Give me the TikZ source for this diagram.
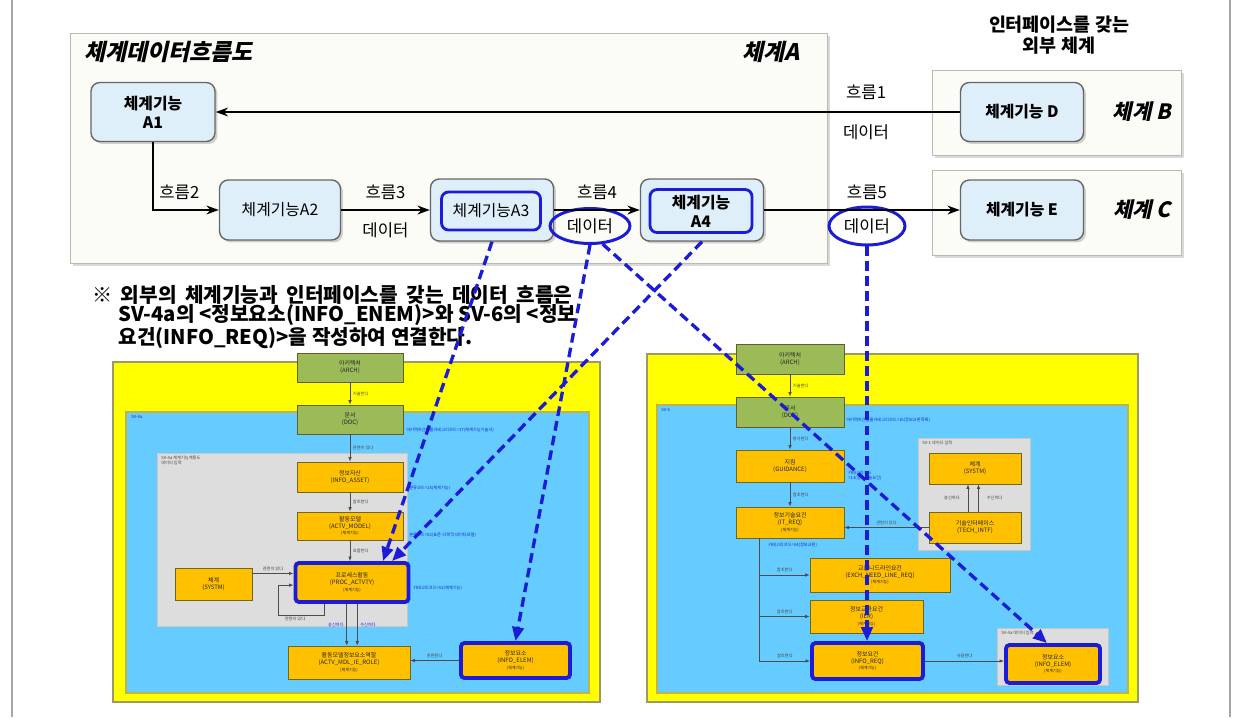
\documentclass[tikz,border=0pt]{standalone}
\usepackage{fontspec}
\setmainfont{Noto Sans CJK KR}
\newfontfamily\slantfont{Noto Sans CJK KR}[UprightFeatures={FakeSlant=0.22}, BoldFeatures={FakeSlant=0.22}]
\usepackage{tikz}
\usetikzlibrary{arrows.meta,positioning,shapes.geometric,calc,shadows}
\definecolor{sysfill}{RGB}{252,252,247}
\definecolor{fnfill}{RGB}{222,239,250}
\definecolor{hlblue}{RGB}{28,28,214}
\definecolor{panelyellow}{RGB}{255,255,0}
\definecolor{panelblue}{RGB}{102,204,255}
\definecolor{panelgray}{RGB}{221,221,221}
\definecolor{boxorange}{RGB}{255,192,0}
\definecolor{boxgreen}{RGB}{155,187,89}
\definecolor{annoblue}{RGB}{20,40,200}
\newcommand{\fnnote}{{\fontsize{2.3}{2.7}\selectfont(체계기능)}}

\begin{document}
\begin{tikzpicture}[x=0.02cm, y=-0.02cm,
    sysbox/.style={rectangle, draw=gray!55, fill=sysfill, line width=0.7pt, inner sep=0pt, anchor=north west,
        drop shadow={shadow xshift=1.6pt, shadow yshift=-1.6pt, opacity=0.3}},
    fnbox/.style={rectangle, rounded corners=5pt, draw=black!60, fill=fnfill, line width=0.8pt, inner sep=0pt,
        align=center, font=\fontsize{9}{11}\selectfont,
        drop shadow={shadow xshift=1.4pt, shadow yshift=-1.4pt, opacity=0.35}},
    hlbox/.style={rectangle, rounded corners=4pt, draw=hlblue, line width=1.6pt, inner sep=0pt, align=center,
        font=\fontsize{9}{11}\selectfont},
    dataell/.style={ellipse, draw=hlblue, line width=1.7pt, inner sep=0pt, font=\fontsize{9.5}{11}\selectfont},
    flow/.style={-{Stealth[length=7pt, width=5pt]}, line width=1.5pt},
    flowlbl/.style={font=\fontsize{9.5}{11}\selectfont},
    sysname/.style={font=\fontsize{12}{14}\selectfont\slantfont\bfseries},
    panel/.style={draw=black!40!yellow!60!gray, fill=panelyellow, line width=1pt},
    svarea/.style={draw=olive!60, fill=panelblue, line width=0.6pt},
    inarea/.style={draw=gray!45, fill=panelgray, line width=0.4pt},
    obox/.style={rectangle, draw=olive!70!black, fill=boxorange, line width=0.4pt, inner sep=0pt, align=center,
        text=black!85, font=\fontsize{3.4}{3.9}\selectfont},
    gbox/.style={obox, fill=boxgreen, draw=olive!60!black},
    hlo/.style={obox, draw=hlblue, line width=2.2pt, rounded corners=2pt},
    pline/.style={-{Latex[length=2.6pt, width=2pt]}, line width=0.4pt, draw=black!70},
    elbl/.style={font=\fontsize{2.4}{2.8}\selectfont, text=black!75, inner sep=1.5pt},
    anno/.style={font=\fontsize{2.4}{2.9}\selectfont, text=annoblue, inner sep=0pt, align=left, anchor=west},
    arealbl/.style={font=\fontsize{2.4}{2.9}\selectfont, text=black!70, inner sep=0pt, align=left, anchor=north west},
    dlink/.style={draw=hlblue, line width=1.9pt, dash pattern=on 5.5pt off 3pt,
        -{Triangle[length=8pt, width=6.5pt]}}
]
\useasboundingbox (0,0) rectangle (1241,717);

% frame
\draw[gray!70, line width=0.6pt] (12,0) -- (12,717);
\draw[gray!70, line width=0.6pt] (1230,0) -- (1230,717);

% system A and external systems
\node[sysbox, minimum width=15.14cm, minimum height=4.6cm] (sysA) at (70,33) {};
\node[sysbox, minimum width=4.98cm, minimum height=1.7cm] (sysB) at (932,70) {};
\node[sysbox, minimum width=4.98cm, minimum height=1.7cm] (sysC) at (932,170) {};
\node[sysname, anchor=west, font=\fontsize{13}{15}\selectfont\slantfont\bfseries] (ttl) at (78,52) {체계데이터흐름도};
\node[sysname, anchor=east, font=\fontsize{13}{15}\selectfont\slantfont\bfseries] (nameA) at (806,52) {체계A};
\node[sysname] (nameB) at (1142,112) {체계 B};
\node[sysname] (nameC) at (1142,210) {체계 C};
\node[font=\fontsize{10.5}{11.6}\selectfont\bfseries, align=center] (hdr) at (1059,35) {인터페이스를 갖는\\외부 체계};

% system functions
\node[fnbox, minimum width=2.48cm, minimum height=1.18cm, font=\fontsize{9}{11}\selectfont\bfseries] (a1) at (153,112) {체계기능\\A1};
\node[fnbox, minimum width=2.42cm, minimum height=1.2cm] (a2) at (280,210) {체계기능A2};
\node[fnbox, minimum width=2.46cm, minimum height=1.24cm] (a3) at (492,210) {};
\node[hlbox, minimum width=1.98cm, minimum height=0.76cm] (a3t) at (491,211) {체계기능A3};
\node[fnbox, minimum width=2.46cm, minimum height=1.24cm] (a4) at (702,210) {};
\node[hlbox, minimum width=2.04cm, minimum height=0.86cm, font=\fontsize{9}{11}\selectfont\bfseries] (a4t) at (701,211) {체계기능\\A4};
\node[fnbox, minimum width=2.46cm, minimum height=1.18cm, font=\fontsize{9}{11}\selectfont\bfseries] (d) at (1022,112) {체계기능 D};
\node[fnbox, minimum width=2.46cm, minimum height=1.2cm, font=\fontsize{9}{11}\selectfont\bfseries] (e) at (1022,210) {체계기능 E};
\node[dataell, minimum width=1.6cm, minimum height=0.7cm] (d4) at (590,226) {데이터};
\node[dataell, minimum width=1.52cm, minimum height=0.76cm] (d5) at (867,226) {데이터};

% flows
\draw[flow] (d) -- (a1) node[flowlbl, pos=0.126, above=3pt] {흐름1} node[flowlbl, pos=0.126, below=3pt] {데이터};
\draw[flow] (a1) |- (a2) node[flowlbl, pos=0.7, above=2pt] {흐름2};
\draw[flow] (a2) -- (a3) node[flowlbl, midway, above=2pt] {흐름3} node[flowlbl, midway, below=3pt] {데이터};
\draw[flow] (a3) -- (a4) node[flowlbl, midway, above=2pt] {흐름4};
\draw[flow] (a4) -- (e) node[flowlbl, pos=0.525, above=2pt] {흐름5};

% note
\node[anchor=north west, align=left, font=\fontsize{11.5}{11}\selectfont\bfseries] (note) at (86,279)
  {\spaceskip=0.42em\relax
   ※ 외부의 체계기능과 인터페이스를 갖는 데이터 흐름은\\
   \hspace*{1.3em}SV-4a의 <정보요소(INFO\_ENEM)>와 SV-6의 <정보\\
   \hspace*{1.3em}요건(INFO\_REQ)>을 작성하여 연결한다.};

% SV-4a panel
\draw[panel] (113,362) rectangle (600,702);
\draw[svarea] (126,412) rectangle (589,693);
\draw[inarea] (157,453) rectangle (407,626);
\node[arealbl, text=annoblue] (sv4a) at (131,415) {SV-4a};
\node[arealbl] (sv4ain) at (161,456) {SV-4a 체계기능계통도\\데이터 입력};

\node[gbox, minimum width=2.12cm, minimum height=0.58cm] (archl) at (350,367.5) {아키텍처\\(ARCH)};
\node[gbox, minimum width=2.12cm, minimum height=0.58cm] (docl) at (350,419.5) {문서\\(DOC)};
\node[obox, minimum width=2.12cm, minimum height=0.6cm] (assetl) at (350,477) {정보자산\\(INFO\_ASSET)};
\node[obox, minimum width=2.12cm, minimum height=0.56cm] (actvl) at (350,526) {활동모델\\(ACTV\_MODEL)\\\fnnote};
\node[hlo, minimum width=2.26cm, minimum height=0.78cm] (procl) at (352,582.5) {프로세스활동\\(PROC\_ACTVTY)\\\fnnote};
\node[obox, minimum width=1.54cm, minimum height=0.64cm] (sysl) at (213.5,584) {체계\\(SYSTM)};
\node[obox, minimum width=2.44cm, minimum height=0.66cm] (rolel) at (349,662.5) {활동모델정보요소역할\\(ACTV\_MDL\_IE\_ROLE)\\\fnnote};
\node[hlo, minimum width=2.18cm, minimum height=0.7cm] (eleml) at (515.5,660.5) {정보요소\\(INFO\_ELEM)\\\fnnote};

\draw[pline] (archl) -- (docl) node[elbl, midway, right] {기술한다};
\draw[pline] (docl) -- (assetl) node[elbl, midway, right] {관련이 있다};
\draw[pline] (assetl) -- (actvl) node[elbl, midway, right] {참조한다};
\draw[pline] (actvl) -- (actvl.south |- procl.north) node[elbl, midway, right] {포함한다};
\draw[pline] ([yshift=6pt]sysl.east) -- ([yshift=6pt]sysl.east -| procl.west) node[elbl, midway, above] {관련이 있다};
\draw[pline] ([xshift=-16pt]procl.south) -- ++(0,11) -- ++(-46,0) |- ([yshift=-1.5pt]procl.west);
\node[elbl] (loopl) at (295,619) {관련이 있다};
\draw[pline] ([xshift=-3pt]procl.south) -- ([xshift=-3pt]procl.south |- rolel.north) node[elbl, midway, left, text=annoblue] {송신하다};
\draw[pline] ([xshift=3pt]procl.south) -- ([xshift=3pt]procl.south |- rolel.north) node[elbl, midway, right, text=annoblue] {수신하다};
\draw[pline] (eleml.west) -- (eleml.west -| rolel.east) node[elbl, midway, above] {관련된다};

\node[anno] (anl1) at (406,430) {아키텍처산출물카테고리코드=17(체계기능기술서)};
\node[anno] (anl2) at (409,488) {분류코드=15(체계기능)};
\node[anno] (anl3) at (409,535) {분류코드=02(표준-다목적 데이터모델)};
\node[anno] (anl4) at (413,588) {카테고리코드=02(체계기능)};

% SV-6 panel
\draw[panel] (647,354) rectangle (1138,702);
\draw[svarea] (657,405) rectangle (1128,693);
\draw[inarea] (918,438) rectangle (1030,550);
\draw[inarea] (997,628) rectangle (1108,685);
\node[arealbl, text=annoblue] (sv6) at (661,408) {SV-6};
\node[arealbl] (sv1in) at (922,441) {SV-1 데이터 입력};
\node[arealbl] (sv4in) at (1001,631) {SV-4a 데이터 입력};

\node[gbox, minimum width=2.16cm, minimum height=0.6cm] (archr) at (790,359) {아키텍처\\(ARCH)};
\node[gbox, minimum width=2.16cm, minimum height=0.6cm] (docr) at (790,412) {문서\\(DOC)};
\node[obox, minimum width=2.16cm, minimum height=0.64cm] (guid) at (790,466) {지침\\(GUIDANCE)};
\node[obox, minimum width=2.16cm, minimum height=0.62cm] (itreq) at (790,522.5) {정보기술요건\\(IT\_REQ)\\\fnnote};
\node[obox, minimum width=1.84cm, minimum height=0.62cm] (sysr) at (975,468.5) {체계\\(SYSTM)};
\node[obox, minimum width=1.84cm, minimum height=0.62cm] (tech) at (975,527.5) {기술인터페이스\\(TECH\_INTF)};
\node[obox, minimum width=2.8cm, minimum height=0.68cm] (exch) at (880,575) {교환니드라인요건\\(EXCH\_NEED\_LINE\_REQ)\\\fnnote};
\node[obox, minimum width=2.26cm, minimum height=0.66cm] (ier) at (866.5,616.5) {정보교환요건\\(IER)\\\fnnote};
\node[hlo, minimum width=2.22cm, minimum height=0.72cm] (inforeq) at (867.5,661) {정보요건\\(INFO\_REQ)\\\fnnote};
\node[hlo, minimum width=1.88cm, minimum height=0.76cm] (elemr) at (1053,664) {정보요소\\(INFO\_ELEM)\\\fnnote};
\coordinate (itbr) at ($(itreq.south west)+(24,0)$);

\draw[pline] (archr) -- (docr) node[elbl, midway, right] {기술한다};
\draw[pline] (docr) -- (guid) node[elbl, midway, right] {평가한다};
\draw[pline] (guid) -- (itreq) node[elbl, midway, right] {참조한다};
\draw[pline] ([xshift=-4pt]tech.north) -- ([xshift=-4pt]tech.north |- sysr.south) node[elbl, midway, left=3pt] {송신하다};
\draw[pline] ([xshift=2pt]tech.north) -- ([xshift=2pt]tech.north |- sysr.south) node[elbl, midway, right=3pt] {수신하다};
\draw[pline] (tech.west) -- (tech.west -| itreq.east) node[elbl, midway, above] {관련이 있다};
\draw[pline] (itbr) |- (exch.west) node[elbl, pos=0.75, above] {참조한다};
\draw[pline] (itbr) |- (ier.west) node[elbl, pos=0.75, above] {참조한다};
\draw[pline] (itbr) |- (inforeq.west) node[elbl, pos=0.75, above] {참조한다};
\draw[pline] (inforeq.east) -- (inforeq.east -| elemr.west) node[elbl, midway, above] {사용한다};

\node[anno] (anr1) at (846,420) {아키텍처산출물카테고리코드=16(정보교환목록)};
\node[anno] (anr2) at (848,476) {카테고리코드\\=13(정보기술요건)};
\node[anno] (anr3) at (768,545) {카테고리코드=04(정보교환)};

% links to SV-4a / SV-6
\draw[dlink] (a3.south) -- ($(procl.north)+(31,0)$);
\draw[dlink] (a4.south) -- ($(procl.north)+(40,0)$);
\draw[dlink] (d4.south) -- (eleml.north);
\draw[dlink] (d4.-55) -- ($(elemr.north)+(-6,0)$);
\draw[dlink] (d5.south) -- (d5.south |- inforeq.north);

\end{tikzpicture}
\end{document}
